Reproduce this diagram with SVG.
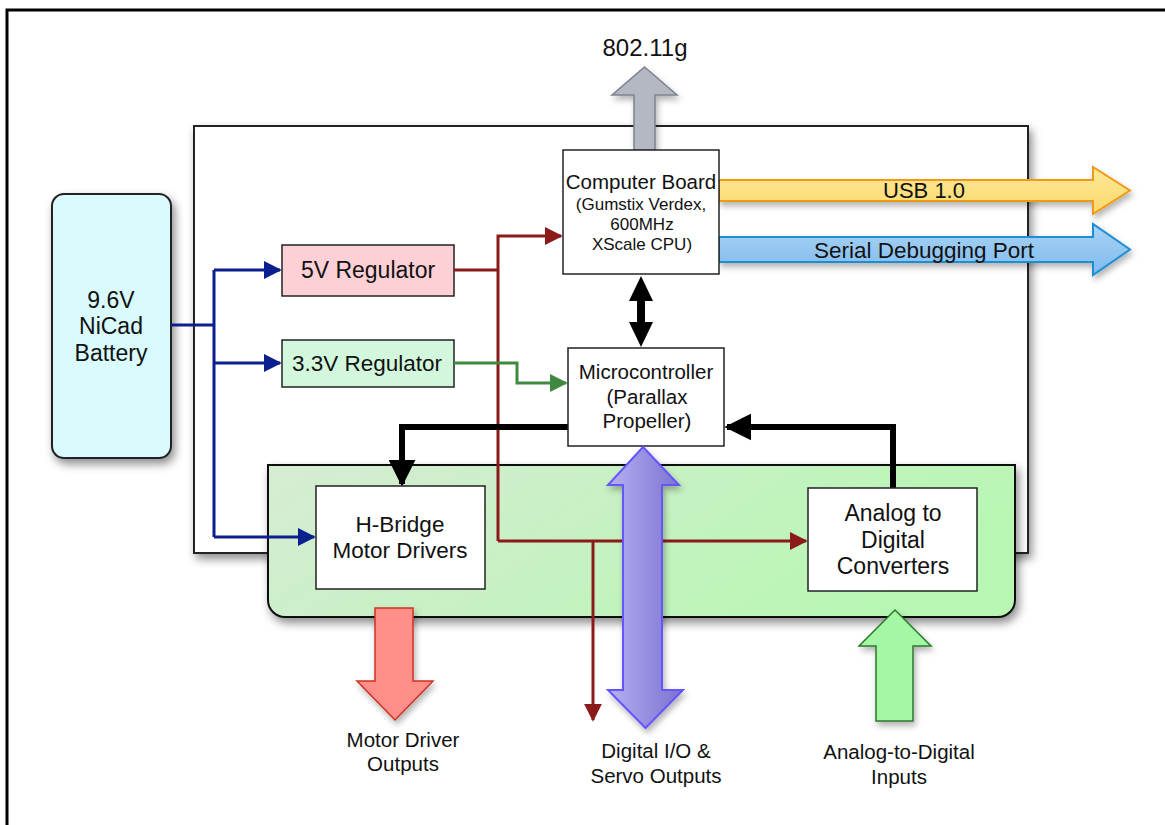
<svg xmlns="http://www.w3.org/2000/svg" width="1165" height="825" viewBox="0 0 1165 825">
<defs>
<style>
.t{font-family:"Liberation Sans",Arial,sans-serif;fill:#111;text-anchor:middle}
.box{fill:#fff;stroke:#222;stroke-width:1.5}
.blue{fill:none;stroke:#0c1f8f;stroke-width:3}
.red{fill:none;stroke:#8b1a1a;stroke-width:3}
.grn{fill:none;stroke:#3f8a40;stroke-width:3}
.blk{fill:none;stroke:#000;stroke-width:6}
</style>
<filter id="sh" x="-10%" y="-10%" width="130%" height="130%">
<feDropShadow dx="3" dy="5" stdDeviation="5" flood-color="#000" flood-opacity="0.45"/>
</filter>
<filter id="sh2" x="-30%" y="-30%" width="160%" height="160%">
<feDropShadow dx="2" dy="4" stdDeviation="3" flood-color="#000" flood-opacity="0.3"/>
</filter>
<linearGradient id="gb" x1="0" y1="0" x2="1" y2="0.3">
<stop offset="0" stop-color="#d6ecd4"/>
<stop offset="1" stop-color="#b8f6b3"/>
</linearGradient>
<linearGradient id="pg" x1="0" y1="0" x2="1" y2="0">
<stop offset="0" stop-color="#b6b0f2"/>
<stop offset="1" stop-color="#7a70cf"/>
</linearGradient>
<linearGradient id="yg" x1="0" y1="0" x2="0" y2="1">
<stop offset="0" stop-color="#fde99a"/>
<stop offset="1" stop-color="#fbd86a"/>
</linearGradient>
<linearGradient id="bg" x1="0" y1="0" x2="0" y2="1">
<stop offset="0" stop-color="#a9d4f5"/>
<stop offset="1" stop-color="#7fbaee"/>
</linearGradient>
<marker id="mb" viewBox="0 0 10 10" refX="9" refY="5" markerWidth="6" markerHeight="6" orient="auto" markerUnits="strokeWidth"><path d="M0,0L10,5L0,10z" fill="#0c1f8f"/></marker>
<marker id="mr" viewBox="0 0 10 10" refX="9" refY="5" markerWidth="6" markerHeight="6" orient="auto" markerUnits="strokeWidth"><path d="M0,0L10,5L0,10z" fill="#8b1a1a"/></marker>
<marker id="mg" viewBox="0 0 10 10" refX="9" refY="5" markerWidth="6" markerHeight="6" orient="auto" markerUnits="strokeWidth"><path d="M0,0L10,5L0,10z" fill="#3f8a40"/></marker>
<marker id="mk" viewBox="0 0 10 10" refX="9" refY="5" markerWidth="4.5" markerHeight="4.5" orient="auto" markerUnits="strokeWidth"><path d="M0,0L10,5L0,10z" fill="#000"/></marker>
</defs>
<rect width="1165" height="825" fill="#fff"/>
<path d="M7,825V10H1165" fill="none" stroke="#000" stroke-width="3"/>

<g id="main-board"><rect x="194" y="126" width="834" height="427" fill="#fff" stroke="#222" stroke-width="2" filter="url(#sh)"/></g>
<g id="io-board"><path d="M268,465H1015V600a17,17 0 0 1 -17,17H285a17,17 0 0 1 -17,-17z" fill="url(#gb)" stroke="#111" stroke-width="2" filter="url(#sh)"/></g>

<g id="wifi-arrow"><path d="M634,150V95H612L644.5,67L677,95H655V150z" fill="#b3b8c2" stroke="#7c8290" stroke-width="1.5" filter="url(#sh2)"/>
<text class="t" x="645" y="56" font-size="24">802.11g</text></g>
<g id="usb"><path d="M719,180H1093V167L1130,190.5L1093,214V201H719z" fill="url(#yg)" stroke="#ef9a12" stroke-width="2" filter="url(#sh2)"/>
<text class="t" x="924" y="198" font-size="22">USB 1.0</text></g>
<g id="serial"><path d="M719,237H1093V224L1130,249.5L1093,275V262H719z" fill="url(#bg)" stroke="#1f8fd4" stroke-width="2" filter="url(#sh2)"/>
<text class="t" x="924" y="258" font-size="22.5">Serial Debugging Port</text></g>

<g id="battery"><rect x="52" y="194" width="119" height="264" rx="12" fill="#d9fbfd" stroke="#222" stroke-width="2" filter="url(#sh)"/>
<text class="t" font-size="23"><tspan x="111" y="308">9.6V</tspan><tspan x="111" y="334">NiCad</tspan><tspan x="111" y="361">Battery</tspan></text></g>
<g id="reg5"><rect x="282" y="245" width="172" height="51" fill="#fdd0d6" stroke="#222" stroke-width="1.5"/>
<text class="t" x="368" y="278" font-size="23">5V Regulator</text></g>
<g id="reg33"><rect x="282" y="340" width="172" height="47" fill="#d3f7dd" stroke="#222" stroke-width="1.5"/>
<text class="t" x="367" y="371" font-size="22.5">3.3V Regulator</text></g>
<g id="computer"><rect class="box" x="563" y="150" width="156" height="124"/>
<text class="t" x="641" y="189" font-size="20.5">Computer Board</text>
<text class="t" font-size="17"><tspan x="641" y="210">(Gumstix Verdex,</tspan><tspan x="642" y="230">600MHz</tspan><tspan x="642" y="250">XScale CPU)</tspan></text></g>

<g id="connectors">
<path class="blue" d="M171,325H214"/>
<path class="blue" d="M214,270V537"/>
<path class="blue" d="M214,270H280" marker-end="url(#mb)"/>
<path class="blue" d="M214,363H280" marker-end="url(#mb)"/>
<path class="blue" d="M214,537H314" marker-end="url(#mb)"/>
<path class="red" d="M454,270H498"/>
<path class="red" d="M498,541V236H561" marker-end="url(#mr)"/>
<path class="red" d="M498,541H806" marker-end="url(#mr)"/>
<path class="red" d="M593,541V720" marker-end="url(#mr)"/>
<path class="grn" d="M454,363H517V383H566" marker-end="url(#mg)"/>
<path class="blk" d="M568,427H402V484" marker-end="url(#mk)"/>
<path class="blk" d="M893,488V427H727" marker-end="url(#mk)"/>
<path d="M641,276L629,301H637V322H629L641,347L653,322H645V301H653z" fill="#000"/>
</g>

<g id="micro"><rect class="box" x="568" y="348" width="156" height="98"/>
<text class="t" font-size="20.5"><tspan x="646" y="379">Microcontroller</tspan><tspan x="647" y="404">(Parallax</tspan><tspan x="647" y="428">Propeller)</tspan></text></g>
<g id="hbridge"><rect class="box" x="316" y="486" width="169" height="103"/>
<text class="t" font-size="22.5"><tspan x="400" y="532">H-Bridge</tspan><tspan x="400" y="558">Motor Drivers</tspan></text></g>
<g id="adc"><rect class="box" x="808" y="488" width="169" height="103"/>
<text class="t" font-size="23"><tspan x="893" y="521">Analog to</tspan><tspan x="893" y="548">Digital</tspan><tspan x="893" y="574">Converters</tspan></text></g>

<g id="digital-io"><path d="M643,447L679,485H662V690H683L645.5,728L608,690H623V485H608z" fill="url(#pg)" stroke="#6655ff" stroke-width="2" filter="url(#sh2)"/>
<text class="t" font-size="20.5" fill="#222"><tspan x="656" y="758">Digital I/O &amp;</tspan><tspan x="656" y="783">Servo Outputs</tspan></text></g>
<g id="motor-out"><path d="M375,608H413V681H433L395,720L357,681H375z" fill="#fe8e88" stroke="#d03020" stroke-width="1.5" filter="url(#sh2)"/>
<text class="t" font-size="20.5" fill="#222"><tspan x="403" y="747">Motor Driver</tspan><tspan x="403" y="771">Outputs</tspan></text></g>
<g id="adc-in"><path d="M876,721V646H859L895,610L931,646H913V721z" fill="#a4f7a4" stroke="#2a7a2a" stroke-width="1.5" filter="url(#sh2)"/>
<text class="t" font-size="20.5" fill="#222"><tspan x="899" y="759">Analog-to-Digital</tspan><tspan x="899" y="784">Inputs</tspan></text></g>
</svg>
